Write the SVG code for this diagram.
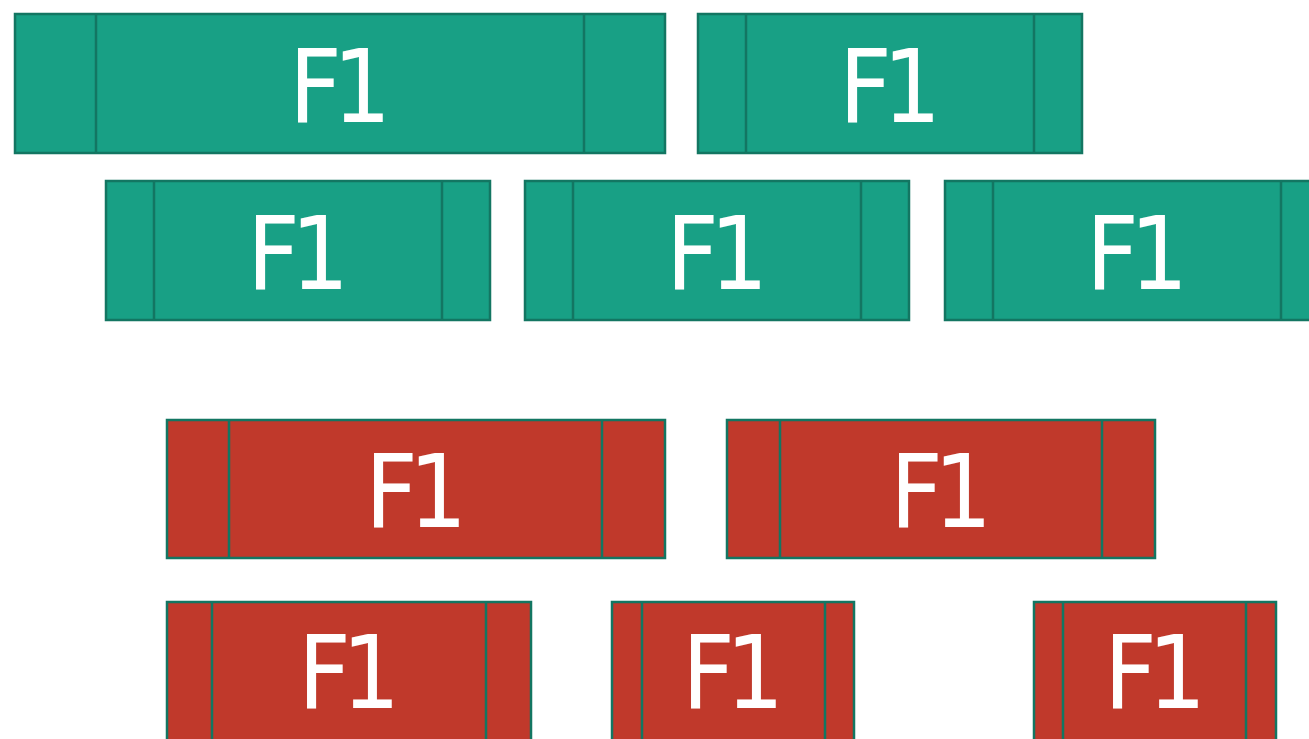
<svg xmlns="http://www.w3.org/2000/svg" width="1309" height="739" viewBox="0 0 1309 739">
<style>
.g{fill:#18A085;stroke:#137662;stroke-width:2.5}
.r{fill:#C0392B;stroke:#137662;stroke-width:2.5}
.d{stroke:#137662;stroke-width:2.5}
.t{font-family:"DejaVu Sans Condensed","DejaVu Sans",sans-serif;font-size:102px;fill:#FFFFFF;text-anchor:middle}
</style>
<rect width="1309" height="739" fill="#FFFFFF"/>
<g id="g1"><rect class="g" x="15" y="14" width="650" height="139"/><line class="d" x1="96" y1="14" x2="96" y2="153"/><line class="d" x1="584" y1="14" x2="584" y2="153"/><text class="t" x="340" y="122" textLength="102">F1</text></g>
<g id="g2"><rect class="g" x="698" y="14" width="384" height="139"/><line class="d" x1="746" y1="14" x2="746" y2="153"/><line class="d" x1="1034" y1="14" x2="1034" y2="153"/><text class="t" x="890" y="122" textLength="102">F1</text></g>
<g id="g3"><rect class="g" x="106" y="181" width="384" height="139"/><line class="d" x1="154" y1="181" x2="154" y2="320"/><line class="d" x1="442" y1="181" x2="442" y2="320"/><text class="t" x="298" y="289" textLength="102">F1</text></g>
<g id="g4"><rect class="g" x="525" y="181" width="384" height="139"/><line class="d" x1="573" y1="181" x2="573" y2="320"/><line class="d" x1="861" y1="181" x2="861" y2="320"/><text class="t" x="717" y="289" textLength="102">F1</text></g>
<g id="g5"><rect class="g" x="945" y="181" width="384" height="139"/><line class="d" x1="993" y1="181" x2="993" y2="320"/><line class="d" x1="1281" y1="181" x2="1281" y2="320"/><text class="t" x="1137" y="289" textLength="102">F1</text></g>
<g id="r1"><rect class="r" x="167" y="420" width="498" height="138"/><line class="d" x1="229" y1="420" x2="229" y2="558"/><line class="d" x1="602" y1="420" x2="602" y2="558"/><text class="t" x="416" y="527" textLength="102">F1</text></g>
<g id="r2"><rect class="r" x="727" y="420" width="428" height="138"/><line class="d" x1="780" y1="420" x2="780" y2="558"/><line class="d" x1="1102" y1="420" x2="1102" y2="558"/><text class="t" x="941" y="527" textLength="102">F1</text></g>
<g id="r3"><rect class="r" x="167" y="602" width="364" height="150"/><line class="d" x1="212" y1="602" x2="212" y2="752"/><line class="d" x1="486" y1="602" x2="486" y2="752"/><text class="t" x="349" y="708" textLength="102">F1</text></g>
<g id="r4"><rect class="r" x="612" y="602" width="242" height="150"/><line class="d" x1="642" y1="602" x2="642" y2="752"/><line class="d" x1="825" y1="602" x2="825" y2="752"/><text class="t" x="733" y="708" textLength="102">F1</text></g>
<g id="r5"><rect class="r" x="1034" y="602" width="242" height="150"/><line class="d" x1="1063" y1="602" x2="1063" y2="752"/><line class="d" x1="1246" y1="602" x2="1246" y2="752"/><text class="t" x="1155" y="708" textLength="102">F1</text></g>
<g id="connectors"></g>
</svg>
